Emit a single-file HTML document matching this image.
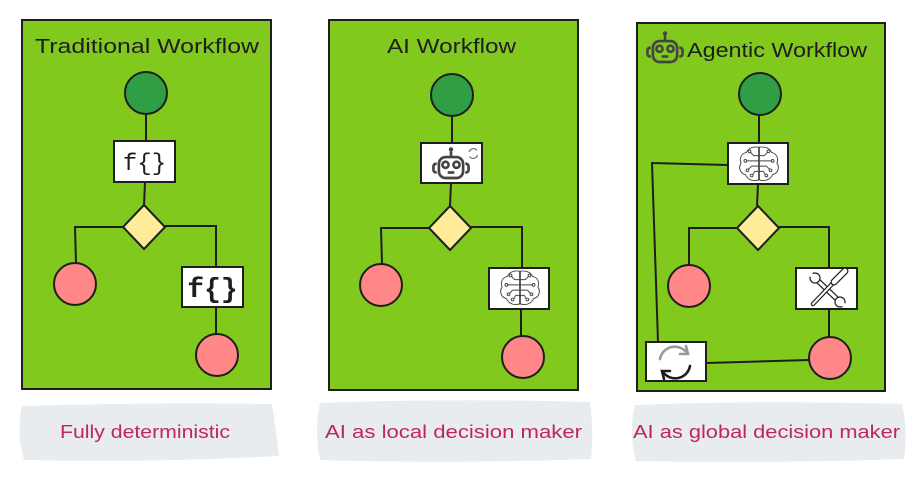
<!DOCTYPE html>
<html><head><meta charset="utf-8"><style>
html,body{margin:0;padding:0;background:#fff;}
svg{display:block;}
text{font-family:"Liberation Sans",sans-serif;}
</style></head><body>
<svg width="923" height="481" viewBox="0 0 923 481" xmlns="http://www.w3.org/2000/svg">
<defs>
<g id="brain" fill="none" stroke="#444" stroke-width="0.9">
  <path d="M0,-16 C-6,-17 -10,-15 -12,-11 C-17,-10 -19,-5 -17,-1 C-20,3 -18,9 -13,10 C-11,15 -5,17 0,15 C5,17 11,15 13,10 C18,9 20,3 17,-1 C19,-5 17,-10 12,-11 C10,-15 6,-17 0,-16 Z"/>
  <line x1="0" y1="-16" x2="0" y2="15" stroke="#222" stroke-width="1.4"/>
  <path d="M0,-8 H-5 L-8,-11 M0,-3 H-12 M0,2 H-7 L-10,5 M0,7 H-4 L-6,10"/>
  <path d="M0,-8 H5 L8,-11 M0,-3 H12 M0,2 H7 L10,5 M0,7 H4 L6,10"/>
  <circle cx="-9" cy="-12" r="1.3"/><circle cx="-13" cy="-3" r="1.3"/><circle cx="-11" cy="6" r="1.3"/><circle cx="-7" cy="11" r="1.3"/>
  <circle cx="9" cy="-12" r="1.3"/><circle cx="13" cy="-3" r="1.3"/><circle cx="11" cy="6" r="1.3"/><circle cx="7" cy="11" r="1.3"/>
</g>
<g id="robot" fill="none" stroke="#444" stroke-width="2.4">
  <rect x="-11" y="-9" width="22" height="19" rx="6"/>
  <path d="M-13,-3 q-3,0 -3,3 v2 q0,3 3,3" />
  <path d="M13,-3 q3,0 3,3 v2 q0,3 -3,3" />
  <line x1="0" y1="-9" x2="0" y2="-14"/>
  <circle cx="0" cy="-16" r="2" fill="#444" stroke="none"/>
  <circle cx="-5" cy="-2" r="2.8"/><circle cx="5" cy="-2" r="2.8"/>
  <line x1="-3" y1="5" x2="3" y2="5"/>
</g>
</defs>

<!-- Panel 1 -->
<rect x="22" y="20" width="249" height="369" fill="#82c91e" stroke="#1e1e1e" stroke-width="2"/>
<text x="35" y="53" font-size="20" fill="#1e1e1e" textLength="224" lengthAdjust="spacingAndGlyphs">Traditional Workflow</text>
<g stroke="#1e1e1e" stroke-width="2" fill="none">
  <line x1="146" y1="113" x2="146" y2="141"/>
  <line x1="145" y1="182" x2="144" y2="205"/>
  <polyline points="123,227 75,227 76,263"/>
  <polyline points="165,226 216,226 216,267"/>
  <line x1="216" y1="307" x2="216" y2="335"/>
</g>
<circle cx="146" cy="93" r="21" fill="#2f9e44" stroke="#1e1e1e" stroke-width="2"/>
<rect x="114" y="141" width="61" height="41" fill="#fff" stroke="#1e1e1e" stroke-width="2"/>
<text x="144.5" y="170" font-size="24" fill="#1e1e1e" text-anchor="middle" style="font-family:'Liberation Mono',monospace">f{}</text>
<polygon points="144,205 165,227 144,249 123,227" fill="#ffec99" stroke="#1e1e1e" stroke-width="2"/>
<circle cx="75" cy="284" r="21" fill="#ff8787" stroke="#1e1e1e" stroke-width="2"/>
<rect x="182" y="267" width="61" height="40" fill="#fff" stroke="#1e1e1e" stroke-width="2"/>
<text x="212.5" y="297" font-size="28" fill="#1e1e1e" text-anchor="middle" font-weight="bold" style="font-family:'Liberation Mono',monospace">f{}</text>
<circle cx="217" cy="355" r="21" fill="#ff8787" stroke="#1e1e1e" stroke-width="2"/>
<path d="M22,406 Q150,402 272,404 Q276,430 279,456 Q150,463 24,460 Q16,432 22,406 Z" fill="#e9ecef"/>
<text x="60" y="438" font-size="18" fill="#c2255c" textLength="170" lengthAdjust="spacingAndGlyphs">Fully deterministic</text>

<!-- Panel 2 -->
<rect x="329" y="20" width="249" height="370" fill="#82c91e" stroke="#1e1e1e" stroke-width="2"/>
<text x="387" y="53" font-size="20" fill="#1e1e1e" textLength="129" lengthAdjust="spacingAndGlyphs">AI Workflow</text>
<g stroke="#1e1e1e" stroke-width="2" fill="none">
  <line x1="452" y1="116" x2="452" y2="143"/>
  <line x1="451" y1="183" x2="450" y2="206"/>
  <polyline points="429,228 381,228 382,264"/>
  <polyline points="471,227 522,227 522,268"/>
  <line x1="521" y1="309" x2="521" y2="336"/>
</g>
<circle cx="452" cy="95" r="21" fill="#2f9e44" stroke="#1e1e1e" stroke-width="2"/>
<rect x="421" y="143" width="61" height="40" fill="#fff" stroke="#1e1e1e" stroke-width="2"/>
<g transform="translate(451 167) scale(1.1)"><use href="#robot"/></g>
<g fill="none" stroke="#555" stroke-width="1">
  <path d="M469,152 a4.5,4.5 0 0 1 8,-1.5"/><path d="M477.5,155 a4.5,4.5 0 0 1 -8,1.5"/>
</g>
<polygon points="450,206 471,228 450,250 429,228" fill="#ffec99" stroke="#1e1e1e" stroke-width="2"/>
<circle cx="381" cy="285" r="21" fill="#ff8787" stroke="#1e1e1e" stroke-width="2"/>
<rect x="489" y="268" width="60" height="41" fill="#fff" stroke="#1e1e1e" stroke-width="2"/>
<g transform="translate(520 288) scale(1.05)"><use href="#brain"/></g>
<circle cx="523" cy="357" r="21" fill="#ff8787" stroke="#1e1e1e" stroke-width="2"/>
<path d="M320,403 Q450,398 590,402 Q594,430 591,459 Q450,464 320,460 Q314,430 320,403 Z" fill="#e9ecef"/>
<text x="325" y="438" font-size="18" fill="#c2255c" textLength="257" lengthAdjust="spacingAndGlyphs">AI as local decision maker</text>

<!-- Panel 3 -->
<rect x="637" y="23" width="248" height="368" fill="#82c91e" stroke="#1e1e1e" stroke-width="2"/>
<g transform="translate(665 51) scale(1.1)"><use href="#robot"/></g>
<text x="687" y="57" font-size="20" fill="#1e1e1e" textLength="180" lengthAdjust="spacingAndGlyphs">Agentic Workflow</text>
<g stroke="#1e1e1e" stroke-width="2" fill="none">
  <line x1="759" y1="115" x2="759" y2="143"/>
  <line x1="758" y1="184" x2="757" y2="206"/>
  <polyline points="736,228 689,228 689,265"/>
  <polyline points="779,227 829,227 829,268"/>
  <line x1="829" y1="309" x2="829" y2="337"/>
  <polyline points="728,165 652,163 658,342"/>
  <line x1="706" y1="363" x2="809" y2="360"/>
</g>
<circle cx="760" cy="94" r="21" fill="#2f9e44" stroke="#1e1e1e" stroke-width="2"/>
<rect x="728" y="143" width="60" height="41" fill="#fff" stroke="#1e1e1e" stroke-width="2"/>
<g transform="translate(759 164) scale(1.05)"><use href="#brain"/></g>
<polygon points="758,206 779,228 758,250 737,228" fill="#ffec99" stroke="#1e1e1e" stroke-width="2"/>
<circle cx="689" cy="286" r="21" fill="#ff8787" stroke="#1e1e1e" stroke-width="2"/>
<rect x="796" y="268" width="61" height="41" fill="#fff" stroke="#1e1e1e" stroke-width="2"/>
<!-- tools: wrench (UL->LR), screwdriver (UR->LL) -->
<g stroke-linecap="round">
  <line x1="816" y1="279" x2="839" y2="301" stroke="#222" stroke-width="5.5"/>
  <line x1="816" y1="279" x2="839" y2="301" stroke="#fff" stroke-width="3"/>
  <circle cx="815" cy="278" r="5" fill="#fff" stroke="#222" stroke-width="1.2"/>
  <circle cx="840" cy="302" r="5" fill="#fff" stroke="#222" stroke-width="1.2"/>
  <path d="M810,274 L815,278" stroke="#fff" stroke-width="4"/>
  <path d="M845,306 L840,302" stroke="#fff" stroke-width="4"/>
  <line x1="813" y1="304" x2="833" y2="283" stroke="#222" stroke-width="4.5"/>
  <line x1="813" y1="304" x2="833" y2="283" stroke="#fff" stroke-width="2"/>
  <line x1="834" y1="282" x2="845" y2="271" stroke="#222" stroke-width="7"/>
  <line x1="834" y1="282" x2="845" y2="271" stroke="#fff" stroke-width="4.5"/>
</g>
<circle cx="830" cy="358" r="21" fill="#ff8787" stroke="#1e1e1e" stroke-width="2"/>
<rect x="646" y="342" width="60" height="39" fill="#fff" stroke="#1e1e1e" stroke-width="2"/>
<g fill="none" stroke-width="2.6" stroke-linecap="round">
  <path d="M660,359 a15,15 0 0 1 27,-6" stroke="#999"/>
  <path d="M686,346 l2,8 l-8,0" stroke="#999"/>
  <path d="M690,366 a15,15 0 0 1 -27,6" stroke="#1e1e1e"/>
  <path d="M664,379 l-2,-8 l8,0" stroke="#1e1e1e"/>
</g>
<path d="M635,405 Q770,400 902,404 Q908,430 904,459 Q770,464 636,461 Q628,432 635,405 Z" fill="#e9ecef"/>
<text x="633" y="438" font-size="18" fill="#c2255c" textLength="267" lengthAdjust="spacingAndGlyphs">AI as global decision maker</text>
</svg>
</body></html>
